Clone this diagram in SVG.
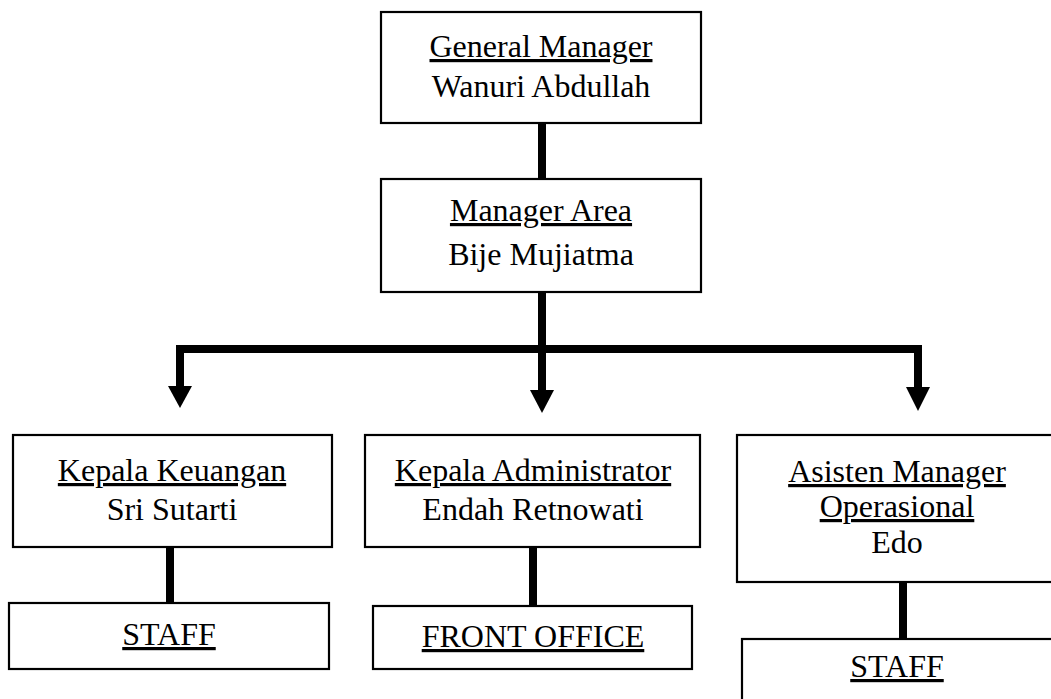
<svg xmlns="http://www.w3.org/2000/svg" width="1051" height="699" viewBox="0 0 1051 699">
<defs>
<style>
.box{fill:#fff;stroke:#000;stroke-width:2.2}
.t{font-family:"Liberation Serif","Times New Roman",serif;font-size:32px;fill:#000;text-anchor:middle}
.u{text-decoration:underline}
.c{stroke:#000;stroke-width:8;fill:none}
.h{fill:#000}
</style>
</defs>
<rect width="1051" height="699" fill="#fff"/>
<g id="connectors">
<line class="c" x1="542" y1="123" x2="542" y2="179"/>
<line class="c" x1="542" y1="292" x2="542" y2="392"/>
<polyline class="c" points="180,388 180,349 918,349 918,389" stroke-width="7" stroke-linejoin="miter"/>
<polygon class="h" points="168,386 192,386 180,408"/>
<polygon class="h" points="530,390 554,390 542,413"/>
<polygon class="h" points="906,387 930,387 918,411"/>
<line class="c" x1="170" y1="547" x2="170" y2="603"/>
<line class="c" x1="533" y1="547" x2="533" y2="606"/>
<line class="c" x1="903" y1="582" x2="903" y2="639"/>
</g>
<g id="general-manager">
<rect class="box" x="381" y="12" width="320" height="111"/>
<text class="t u" x="541" y="57">General Manager</text>
<text class="t" x="541" y="97">Wanuri Abdullah</text>
</g>
<g id="manager-area">
<rect class="box" x="381" y="179" width="320" height="113"/>
<text class="t u" x="541" y="221">Manager Area</text>
<text class="t" x="541" y="265">Bije Mujiatma</text>
</g>
<g id="kepala-keuangan">
<rect class="box" x="13" y="435" width="319" height="112"/>
<text class="t u" x="172" y="481">Kepala Keuangan</text>
<text class="t" x="172" y="520">Sri Sutarti</text>
</g>
<g id="kepala-administrator">
<rect class="box" x="365" y="435" width="335" height="112"/>
<text class="t u" x="533" y="481">Kepala Administrator</text>
<text class="t" x="533" y="520">Endah Retnowati</text>
</g>
<g id="asisten-manager">
<rect class="box" x="737" y="435" width="330" height="147"/>
<text class="t u" x="897" y="482">Asisten Manager</text>
<text class="t u" x="897" y="517">Operasional</text>
<text class="t" x="897" y="553">Edo</text>
</g>
<g id="staff-keuangan">
<rect class="box" x="9" y="603" width="320" height="66"/>
<text class="t u" x="169" y="645">STAFF</text>
</g>
<g id="front-office">
<rect class="box" x="373" y="606" width="319" height="63"/>
<text class="t u" x="533" y="647">FRONT OFFICE</text>
</g>
<g id="staff-operasional">
<rect class="box" x="742" y="639" width="330" height="80"/>
<text class="t u" x="897" y="677">STAFF</text>
</g>
</svg>
